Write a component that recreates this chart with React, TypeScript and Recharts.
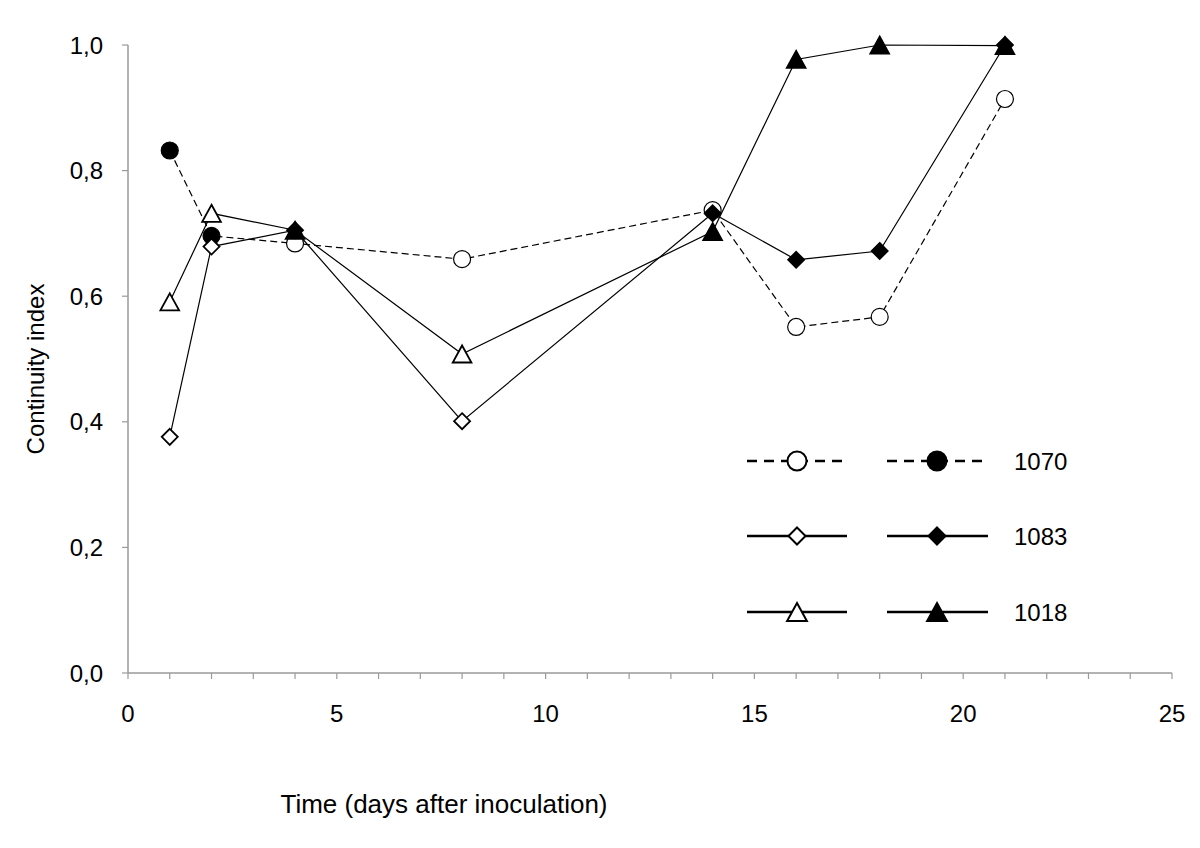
import React from 'react';
import { LineChart, Line, XAxis, YAxis, Legend } from 'recharts';

const days = [1, 2, 4, 8, 14, 16, 18, 21];
const s1070 = [0.832, 0.696, 0.684, 0.659, 0.737, 0.551, 0.567, 0.914];
const s1070Filled = [true, true, false, false, false, false, false, false];
const s1083 = [0.376, 0.679, 0.705, 0.401, 0.732, 0.658, 0.672, 1.0];
const s1083Filled = [false, false, true, false, true, true, true, true];
const s1018 = [0.591, 0.732, 0.705, 0.508, 0.703, 0.977, 1.0, 0.999];
const s1018Filled = [false, false, true, false, true, true, true, true];

const xTicks = Array.from({ length: 26 }, (_, i) => i);
const yTicks = [0, 0.2, 0.4, 0.6, 0.8, 1.0];
const seriesNames = ['1070', '1083', '1018'];

const data = days.map((d, i) => ({
  day: d,
  a: s1070[i],
  b: s1083[i],
  c: s1018[i],
}));

const FONT = '"Liberation Sans", Arial, sans-serif';
const AXIS_GREY = '#9a9a9a';

type Shape = 'circle' | 'diamond' | 'triangle';

function Marker({ shape, filled, cx, cy, s, sw }: { shape: Shape; filled: boolean; cx: number; cy: number; s: number; sw: number }) {
  const fill = filled ? '#000' : '#fff';
  if (shape === 'circle') {
    return <circle cx={cx} cy={cy} r={s} fill={fill} stroke="#000" strokeWidth={sw} />;
  }
  if (shape === 'diamond') {
    const pts = `${cx},${cy - s} ${cx + s},${cy} ${cx},${cy + s} ${cx - s},${cy}`;
    return <polygon points={pts} fill={fill} stroke="#000" strokeWidth={sw} />;
  }
  const w = s * 1.1;
  const pts = `${cx},${cy - s} ${cx + w},${cy + s} ${cx - w},${cy + s}`;
  return <polygon points={pts} fill={fill} stroke="#000" strokeWidth={sw} strokeLinejoin="miter" />;
}

function makeDot(shape: Shape, flags: boolean[], s: number, sw: number) {
  return (props: any) => {
    const { cx, cy, index } = props;
    if (cx == null || cy == null) return <g key={`d-${shape}-${index}`} />;
    return (
      <g key={`d-${shape}-${index}`}>
        <Marker shape={shape} filled={flags[index]} cx={cx} cy={cy} s={s} sw={sw} />
      </g>
    );
  };
}

const legendRows: { shape: Shape; dash?: string; name: string }[] = [
  { shape: 'circle', dash: '10 7', name: seriesNames[0] },
  { shape: 'diamond', name: seriesNames[1] },
  { shape: 'triangle', name: seriesNames[2] },
];

function renderLegend() {
  const rowY = [31, 106, 182];
  return (
    <svg width={360} height={210} style={{ display: 'block', overflow: 'visible' }}>
      {legendRows.map((r, i) => {
        const y = rowY[i];
        const sz = r.shape === 'circle' ? 9.5 : r.shape === 'diamond' ? 8.5 : 9;
        return (
          <g key={r.name}>
            <line x1={7} x2={107} y1={y} y2={y} stroke="#000" strokeWidth={2.6} strokeDasharray={r.dash} />
            <Marker shape={r.shape} filled={false} cx={57} cy={y} s={sz} sw={2} />
            <line x1={147} x2={248} y1={y} y2={y} stroke="#000" strokeWidth={2.6} strokeDasharray={r.dash} />
            <Marker shape={r.shape} filled={true} cx={197} cy={y} s={sz} sw={2} />
            <text x={274} y={y} dominantBaseline="central" fontSize={24} fontFamily={FONT} fill="#000">
              {r.name}
            </text>
          </g>
        );
      })}
    </svg>
  );
}

export default function App() {
  return (
    <div style={{ position: 'absolute', left: 0, top: 0, width: 1200, height: 848, background: '#fff' }}>
      <LineChart width={1200} height={848} data={data} margin={{ top: 45, right: 28, left: 0, bottom: 40 }}>
        <XAxis
          dataKey="day"
          type="number"
          domain={[0, 25]}
          ticks={xTicks}
          interval={0}
          tickFormatter={(v: number) => (v % 5 === 0 ? String(v) : '')}
          height={135}
          tickSize={6}
          tickMargin={26}
          axisLine={{ stroke: AXIS_GREY, strokeWidth: 1.5 }}
          tickLine={{ stroke: AXIS_GREY, strokeWidth: 1.2 }}
          tick={{ fill: '#000', fontSize: 24, fontFamily: FONT }}
          label={{
            content: (p: any) => {
              const vb = p.viewBox;
              return (
                <text x={vb.x + 316} y={vb.y + 140} textAnchor="middle" fontSize={26} fontFamily={FONT} fill="#000">
                  Time (days after inoculation)
                </text>
              );
            },
          }}
        />
        <YAxis
          type="number"
          domain={[0, 1]}
          ticks={yTicks}
          interval={0}
          width={128}
          tickSize={6}
          tickMargin={19}
          tickFormatter={(v: number) => v.toFixed(1).replace('.', ',')}
          axisLine={{ stroke: AXIS_GREY, strokeWidth: 1.5 }}
          tickLine={{ stroke: AXIS_GREY, strokeWidth: 1.2 }}
          tick={{ fill: '#000', fontSize: 24, fontFamily: FONT }}
          label={{
            content: (p: any) => {
              const vb = p.viewBox;
              const x = 44;
              const y = vb.y + vb.height / 2 + 10;
              return (
                <text x={x} y={y} transform={`rotate(-90, ${x}, ${y})`} textAnchor="middle" fontSize={24} fontFamily={FONT} fill="#000">
                  Continuity index
                </text>
              );
            },
          }}
        />
        <Legend
          layout="horizontal"
          verticalAlign="middle"
          align="center"
          content={renderLegend}
          wrapperStyle={{ position: 'absolute', left: 740, top: 430, width: 360, height: 210 }}
        />
        <Line
          dataKey="a"
          name={seriesNames[0]}
          stroke="#000"
          strokeWidth={1.2}
          strokeDasharray="7 4"
          isAnimationActive={false}
          dot={makeDot('circle', s1070Filled, 8.5, 1.2)}
          activeDot={false}
        />
        <Line
          dataKey="b"
          name={seriesNames[1]}
          stroke="#000"
          strokeWidth={1.2}
          isAnimationActive={false}
          dot={makeDot('diamond', s1083Filled, 8, 1.8)}
          activeDot={false}
        />
        <Line
          dataKey="c"
          name={seriesNames[2]}
          stroke="#000"
          strokeWidth={1.2}
          isAnimationActive={false}
          dot={makeDot('triangle', s1018Filled, 8.5, 1.8)}
          activeDot={false}
        />
      </LineChart>
    </div>
  );
}
